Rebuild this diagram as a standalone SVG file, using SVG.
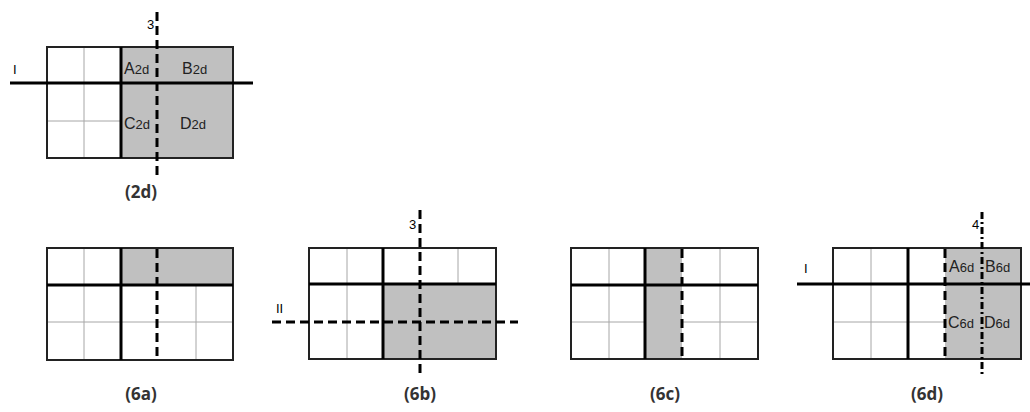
<svg xmlns="http://www.w3.org/2000/svg" width="1030" height="412" viewBox="0 0 1030 412">
<style>
.bg{fill:#fff}
.sh{fill:#c0c0c0}
.thin{stroke:#a6a6a6;stroke-width:1;fill:none}
.box{stroke:#222;stroke-width:2;fill:none}
.thick{stroke:#000;stroke-width:3;fill:none}
.dash{stroke:#000;stroke-width:3;fill:none;stroke-dasharray:9 5}
.dashdot{stroke:#000;stroke-width:3;fill:none;stroke-dasharray:7 3 2 3}
.lbl{font-family:"Liberation Sans",Arial,sans-serif;font-size:16px;fill:#222}
.sub{font-size:13px}
.cap{font-family:"Open Sans","Liberation Sans",sans-serif;font-size:17px;font-weight:bold;fill:#333;text-anchor:middle}
.ax{font-family:"Liberation Sans",Arial,sans-serif;font-size:13px;fill:#000}
</style>
<rect width="1030" height="412" fill="#fff"/>

<g id="p2d">
<rect class="bg" x="47" y="47" width="186" height="111"/>
<rect class="sh" x="121" y="47" width="112" height="111"/>
<line class="thin" x1="84" y1="47" x2="84" y2="158"/>
<line class="thin" x1="47" y1="121" x2="121" y2="121"/>
<rect class="box" x="47" y="47" width="186" height="111"/>
<line class="thick" x1="121" y1="47" x2="121" y2="158"/>
<line class="thick" x1="10" y1="83" x2="253" y2="83"/>
<line class="dash" x1="157" y1="12" x2="157" y2="180"/>
<text class="ax" x="147" y="29">3</text>
<text class="ax" x="13" y="74">I</text>
<text class="lbl" x="124" y="74">A<tspan class="sub">2d</tspan></text>
<text class="lbl" x="182" y="74">B<tspan class="sub">2d</tspan></text>
<text class="lbl" x="124" y="129">C<tspan class="sub">2d</tspan></text>
<text class="lbl" x="180" y="129">D<tspan class="sub">2d</tspan></text>
<text class="cap" x="141" y="198">(2d)</text>
</g>

<g id="p6a">
<rect class="bg" x="47" y="248" width="186" height="112"/>
<rect class="sh" x="121" y="248" width="112" height="37"/>
<line class="thin" x1="84" y1="248" x2="84" y2="360"/>
<line class="thin" x1="196" y1="285" x2="196" y2="360"/>
<line class="thin" x1="47" y1="322" x2="233" y2="322"/>
<rect class="box" x="47" y="248" width="186" height="112"/>
<line class="thick" x1="121" y1="248" x2="121" y2="360"/>
<line class="thick" x1="47" y1="285" x2="233" y2="285"/>
<line class="dash" x1="157" y1="249" x2="157" y2="360"/>
<text class="cap" x="141" y="400">(6a)</text>
</g>

<g id="p6b">
<rect class="bg" x="309" y="248" width="187" height="111"/>
<rect class="sh" x="383" y="284" width="113" height="75"/>
<line class="thin" x1="347" y1="248" x2="347" y2="359"/>
<line class="thin" x1="458" y1="248" x2="458" y2="284"/>
<rect class="box" x="309" y="248" width="187" height="111"/>
<line class="thick" x1="383" y1="248" x2="383" y2="359"/>
<line class="thick" x1="309" y1="284" x2="496" y2="284"/>
<line class="dash" x1="420" y1="210" x2="420" y2="376"/>
<line class="dash" x1="272" y1="322" x2="518" y2="322"/>
<text class="ax" x="409" y="229">3</text>
<text class="ax" x="276" y="313">II</text>
<text class="cap" x="420" y="400">(6b)</text>
</g>

<g id="p6c">
<rect class="bg" x="571" y="248" width="187" height="111"/>
<rect class="sh" x="645" y="248" width="37" height="111"/>
<line class="thin" x1="609" y1="248" x2="609" y2="359"/>
<line class="thin" x1="720" y1="248" x2="720" y2="359"/>
<line class="thin" x1="571" y1="322" x2="645" y2="322"/>
<line class="thin" x1="682" y1="322" x2="758" y2="322"/>
<rect class="box" x="571" y="248" width="187" height="111"/>
<line class="thick" x1="645" y1="248" x2="645" y2="359"/>
<line class="thick" x1="571" y1="285" x2="758" y2="285"/>
<line class="dash" x1="682" y1="249" x2="682" y2="359"/>
<text class="cap" x="665" y="400">(6c)</text>
</g>

<g id="p6d">
<rect class="bg" x="833" y="248" width="188" height="111"/>
<rect class="sh" x="945" y="248" width="76" height="111"/>
<line class="thin" x1="871" y1="248" x2="871" y2="359"/>
<line class="thin" x1="833" y1="322" x2="945" y2="322"/>
<rect class="box" x="833" y="248" width="188" height="111"/>
<line class="thick" x1="908" y1="248" x2="908" y2="359"/>
<line class="thick" x1="797" y1="284" x2="1030" y2="284"/>
<line class="dash" x1="945" y1="249" x2="945" y2="359"/>
<line class="dashdot" x1="982" y1="212" x2="982" y2="374"/>
<text class="ax" x="972" y="229">4</text>
<text class="ax" x="804" y="273">I</text>
<text class="lbl" x="949" y="272">A<tspan class="sub">6d</tspan></text>
<text class="lbl" x="985" y="272">B<tspan class="sub">6d</tspan></text>
<text class="lbl" x="948" y="328">C<tspan class="sub">6d</tspan></text>
<text class="lbl" x="984" y="328">D<tspan class="sub">6d</tspan></text>
<text class="cap" x="927" y="400">(6d)</text>
</g>
</svg>
